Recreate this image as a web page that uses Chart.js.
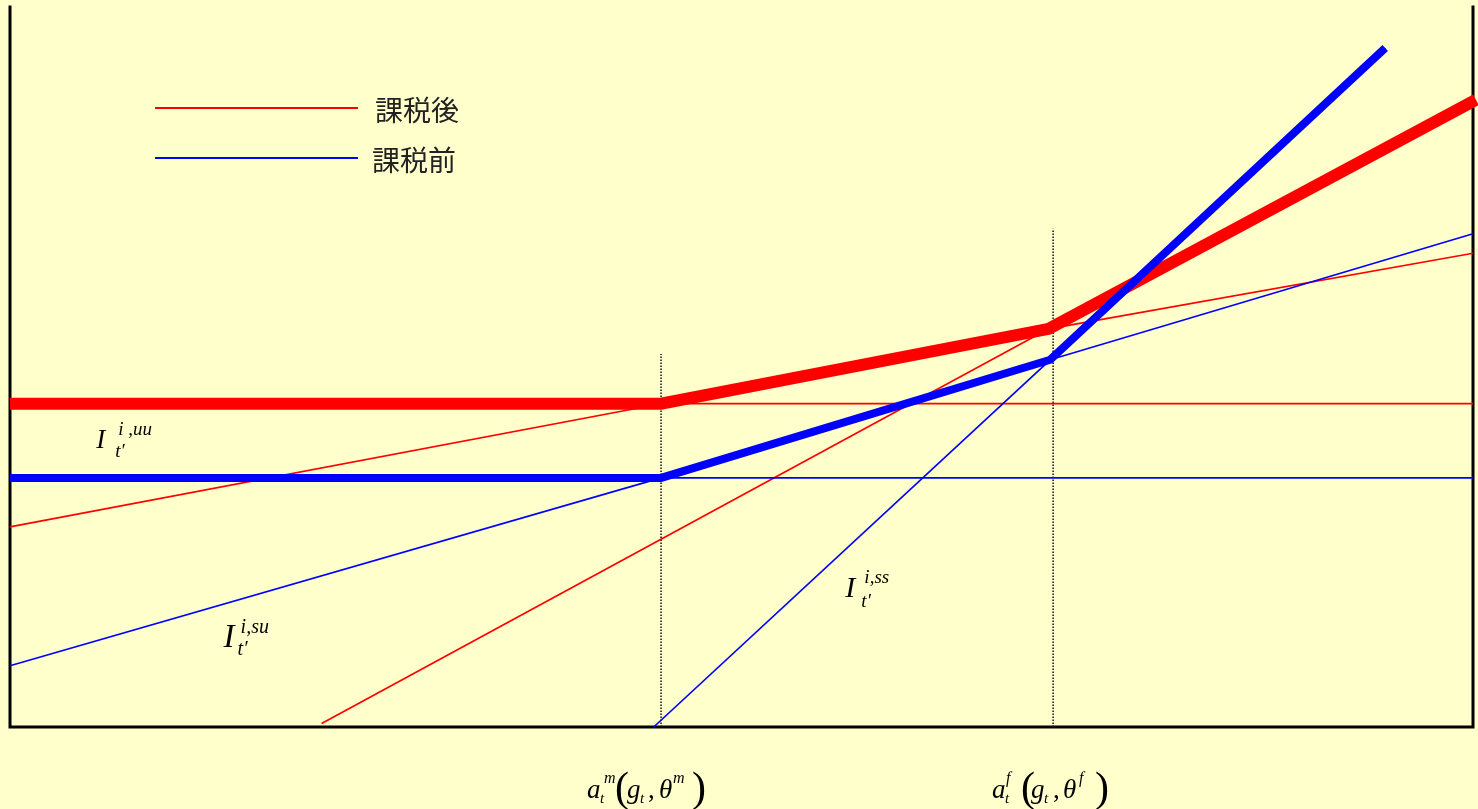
<!DOCTYPE html>
<html>
<head>
<meta charset="utf-8">
<title>課税前後の投資関数</title>
<script src="https://cdn.jsdelivr.net/npm/chart.js@4.4.1/dist/chart.umd.min.js"></script>
<style>
  html, body { margin: 0; padding: 0; background: #FFFFCC; }
  #wrap { width: 1478px; height: 809px; }
</style>
</head>
<body>
<div id="wrap"><canvas id="c" width="1478" height="809"></canvas></div>
<script>
// ---- data (x: asset level, y: investment; both in 0–100 plot units) ----
const seriesNames = ['課税後', '課税前'];

// kinked envelopes (upper bound of the three regimes)
const afterTaxEnvelope  = [[0, 44.9], [44.5, 44.9], [71.0, 55.3], [100.2, 87.1]];
const beforeTaxEnvelope = [[0, 34.6], [44.5, 34.6], [71.1, 51.0], [94.0, 94.3]];

// individual regime lines, after tax
const afterTaxUU = [[44.5, 44.9], [100, 44.9]];
const afterTaxSU = [[0, 27.8], [44.5, 44.9], [71.0, 55.3], [100, 65.8]];
const afterTaxSS = [[21.3, 0.5], [71.0, 55.3], [100.2, 87.1]];

// individual regime lines, before tax
const beforeTaxUU = [[44.5, 34.6], [100, 34.6]];
const beforeTaxSU = [[0, 8.5], [44.5, 34.6], [71.1, 51.0], [100, 68.5]];
const beforeTaxSS = [[44.0, 0], [71.1, 51.0], [94.0, 94.3]];

// thresholds a_t^m and a_t^f, and heights of their guide lines
const thresholdX   = [44.5, 71.3];
const thresholdTop = [51.8, 69.2];
const thresholdSup = ['m', 'f'];

// regime labels I_{t'}^{i,..} and their anchor points
const regimeTags = ['i ,uu', 'i,su', 'i,ss'];
const regimeTagX = [5.9, 14.6, 57.1];
const regimeTagY = [38.8, 11.1, 18.1];

const RED = '#FF0000', BLUE = '#0000FF', BG = '#FFFFCC';
const SERIF = '"Liberation Serif", "Times New Roman", serif';

const pts = arr => arr.map(([x, y]) => ({ x, y }));
const line = (data, color, width) => ({
  data: pts(data), borderColor: color, borderWidth: width,
  pointRadius: 0, tension: 0, fill: false, clip: false,
  borderCapStyle: 'butt', borderJoinStyle: 'miter'
});

const guides = thresholdX.map((x, i) => ({
  data: pts([[x, 0], [x, thresholdTop[i]]]), borderColor: '#111', borderWidth: 1.5,
  borderDash: [1.5, 1.5], pointRadius: 0, tension: 0, fill: false, clip: false
}));

// first dataset is painted last (on top)
const datasets = [
  line(beforeTaxEnvelope, BLUE, 8),
  line(afterTaxEnvelope, RED, 12),
  line(beforeTaxUU, BLUE, 1.7),
  line(beforeTaxSU, BLUE, 1.7),
  line(beforeTaxSS, BLUE, 1.7),
  line(afterTaxUU, RED, 1.7),
  line(afterTaxSU, RED, 1.7),
  line(afterTaxSS, RED, 1.7),
  ...guides
];

// draw a run of math glyphs at explicit offsets from an origin
function drawGlyphs(ctx, ox, oy, glyphs) {
  ctx.fillStyle = '#000';
  ctx.textAlign = 'left';
  ctx.textBaseline = 'alphabetic';
  for (const g of glyphs) {
    ctx.font = (g.up ? '' : 'italic ') + g.s + 'px ' + SERIF;
    ctx.fillText(g.t, ox + g.dx, oy + (g.dy || 0));
  }
}

const decorations = {
  id: 'decorations',
  beforeDraw(chart) {
    const { ctx, width, height } = chart;
    ctx.save();
    ctx.fillStyle = BG;
    ctx.fillRect(0, 0, width, height);
    ctx.restore();
  },
  beforeDatasetsDraw(chart) {
    const { ctx, chartArea: a } = chart;
    ctx.save();
    ctx.strokeStyle = '#000';
    ctx.lineWidth = 3;
    ctx.lineCap = 'square';
    ctx.beginPath();
    ctx.moveTo(a.left, a.top);
    ctx.lineTo(a.left, a.bottom);
    ctx.lineTo(a.right, a.bottom);
    ctx.lineTo(a.right, a.top);
    ctx.stroke();
    ctx.restore();
  },
  afterDatasetsDraw(chart) {
    const { ctx, scales: { x, y } } = chart;
    ctx.save();

    // legend
    const legendColors = [RED, BLUE];
    const legendRows = [108, 158];
    const legendTextX = [375, 372];
    seriesNames.forEach((name, i) => {
      ctx.strokeStyle = legendColors[i];
      ctx.lineWidth = 2;
      ctx.beginPath();
      ctx.moveTo(155, legendRows[i]);
      ctx.lineTo(358, legendRows[i]);
      ctx.stroke();
      ctx.fillStyle = '#222';
      ctx.font = '28px "Noto Sans CJK JP", "Noto Sans CJK SC", sans-serif';
      ctx.textBaseline = 'middle';
      ctx.textAlign = 'left';
      ctx.fillText(name, legendTextX[i], legendRows[i] + 2);
    });

    // regime labels I_{t'}^{i,..}
    const tagSize = [27, 33, 30];
    const tagLayout = [
      { sup: 22, sub: 19, supDy: -13, subDy: 9, ss: 19 },
      { sup: 17, sub: 14, supDy: -14, subDy: 8, ss: 20 },
      { sup: 19, sub: 16, supDy: -14, subDy: 10, ss: 19 }
    ];
    regimeTags.forEach((tag, i) => {
      const px = x.getPixelForValue(regimeTagX[i]);
      const py = y.getPixelForValue(regimeTagY[i]);
      const L = tagLayout[i];
      drawGlyphs(ctx, px, py, [
        { t: 'I', s: tagSize[i], dx: 0 },
        { t: tag, s: L.ss, dx: L.sup, dy: L.supDy },
        { t: 't\u2032', s: L.ss, dx: L.sub, dy: L.subDy }
      ]);
    });

    // threshold labels a_t^m(g_t, θ^m) and a_t^f(g_t, θ^f)
    const labelShift = [-74, -61];
    const layouts = [
      { tA: 13, supA: 17, paren: 28, g: 40, tg: 53, comma: 61, th: 72, supB: 86, close: 105 },
      { tA: 13, supA: 14, paren: 29, g: 39, tg: 52, comma: 61, th: 71, supB: 87, close: 103 }
    ];
    const baseline = 798;
    thresholdX.forEach((v, i) => {
      const ox = x.getPixelForValue(v) + labelShift[i];
      const L = layouts[i];
      const sup = thresholdSup[i];
      drawGlyphs(ctx, ox, baseline, [
        { t: 'a', s: 27, dx: 0 },
        { t: 't', s: 15, dx: L.tA, dy: 5 },
        { t: sup, s: 16, dx: L.supA, dy: -15 },
        { t: '(', s: 42, dx: L.paren, dy: 3, up: true },
        { t: 'g', s: 27, dx: L.g },
        { t: 't', s: 15, dx: L.tg, dy: 5 },
        { t: ',', s: 27, dx: L.comma, up: true },
        { t: '\u03B8', s: 27, dx: L.th },
        { t: sup, s: 16, dx: L.supB, dy: -15 },
        { t: ')', s: 42, dx: L.close, dy: 3, up: true }
      ]);
    });
    ctx.restore();
  }
};

new Chart(document.getElementById('c'), {
  type: 'line',
  data: { datasets },
  options: {
    responsive: false,
    animation: false,
    devicePixelRatio: 1,
    layout: { padding: { left: 10, top: 7, right: 5, bottom: 82 } },
    scales: {
      x: { type: 'linear', min: 0, max: 100, display: false },
      y: { type: 'linear', min: 0, max: 100, display: false }
    },
    plugins: { legend: { display: false }, tooltip: { enabled: false } }
  },
  plugins: [decorations]
});
</script>
</body>
</html>
